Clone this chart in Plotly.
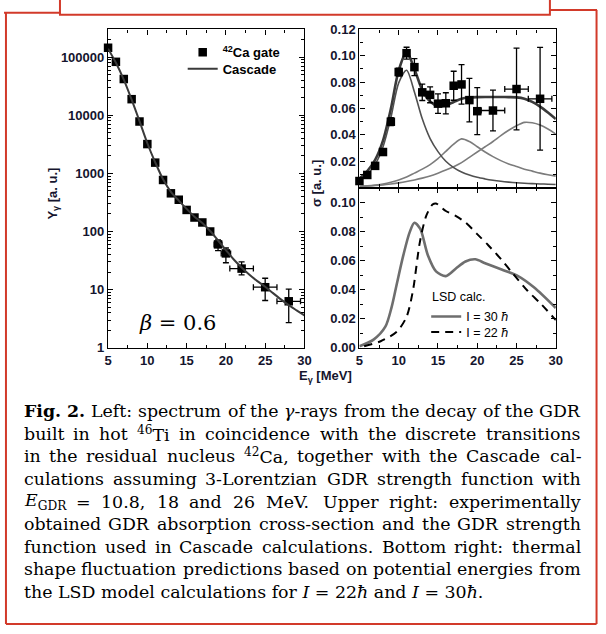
import re
import plotly.graph_objects as go

W, H = 606, 634
SANS = "Liberation Sans"
SERIF = "DejaVu Serif"
LABEL = "#15152e"
RED = "#d23a2a"

# ---------------- data: left panel (gamma spectrum, log scale) ----------------
left_E = [5, 6, 7, 8, 9, 10, 11, 12, 13, 14, 15, 16, 17, 18, 19, 20, 22, 25, 28]
left_Y = [145000, 83000, 42000, 18900, 7800, 3190, 1530, 770, 454, 352, 235, 174, 143, 100, 60, 42, 23, 11, 6.3]
left_Y_up = [0, 0, 0, 0, 0, 0, 0, 0, 0, 0, 0, 0, 0, 0, 12, 10, 7, 4.7, 3.9]
left_Y_dn = [0, 0, 0, 0, 0, 0, 0, 0, 0, 0, 0, 0, 0, 0, 13, 13, 5, 4.5, 3.6]
left_E_err = [0, 0, 0, 0, 0, 0, 0, 0, 0, 0, 0, 0, 0, 0, 0.5, 0.6, 1.5, 1.5, 1.5]

casc_E = [5, 6, 7, 8, 9, 10, 11, 12, 13, 14, 15, 16, 17, 18, 19, 20, 21, 22, 23, 24, 25, 26, 27, 28, 29, 30]
casc_Y = [140000, 80000, 41000, 18500, 7900, 3300, 1550, 790, 480, 340, 245, 180, 140, 102, 70, 48, 33, 24,
          18, 14, 11.2, 8.7, 6.8, 5.4, 4.4, 3.6]

left_yticks = [1, 10, 100, 1000, 10000, 100000]
left_yminor = [2, 3, 4, 5, 6, 7, 8, 9, 20, 30, 40, 50, 60, 70, 80, 90, 200, 300, 400, 500, 600, 700, 800, 900,
               2000, 3000, 4000, 5000, 6000, 7000, 8000, 9000, 20000, 30000, 40000, 50000, 60000, 70000,
               80000, 90000, 200000]
x_ticks = [5, 10, 15, 20, 25, 30]

# ---------------- data: upper right (GDR absorption cross-section) ----------------
gdr_E = [5, 6, 7, 8, 9, 10, 11, 12, 13, 14, 15, 16, 17, 18, 19, 20, 22, 25, 28]
gdr_S = [0.0050, 0.0096, 0.0165, 0.0270, 0.0500, 0.0877, 0.1020, 0.0914, 0.0723, 0.0704, 0.0637, 0.0640,
         0.0773, 0.0783, 0.0664, 0.0580, 0.0585, 0.0748, 0.0674]
gdr_err = [0.001, 0.001, 0.0015, 0.002, 0.003, 0.003, 0.0045, 0.0065, 0.0062, 0.006, 0.0074, 0.008,
           0.011, 0.015, 0.0165, 0.0178, 0.0154, 0.031, 0.039]
gdr_E_err = [0, 0, 0, 0, 0, 0, 0, 0, 0, 0, 0, 0, 0, 0, 0, 0, 1.5, 1.5, 1.5]
upper_yticks = [0.02, 0.04, 0.06, 0.08, 0.10, 0.12]
lower_yticks = [0.00, 0.02, 0.04, 0.06, 0.08, 0.10]

fit_E = [5, 6, 7, 8, 9, 10, 11, 12, 13, 14, 15, 16, 17, 18, 19, 20, 21, 22, 23, 24, 25, 26, 27, 28, 29, 30]
fit_total = [0.0068, 0.0126, 0.0211, 0.0357, 0.0598, 0.0889, 0.1030, 0.0900, 0.0740, 0.0654, 0.0620, 0.0625,
             0.0650, 0.0675, 0.0684, 0.0687, 0.0688, 0.0688, 0.0688, 0.0687, 0.0685, 0.0675, 0.0650, 0.0615,
             0.0570, 0.0520]
fit_L1 = [0.0050, 0.0101, 0.0176, 0.0309, 0.0530, 0.0795, 0.0890, 0.0726, 0.0522, 0.0372, 0.0273, 0.0200,
          0.0152, 0.0118, 0.0095, 0.0078, 0.0066, 0.0056, 0.0048, 0.0042, 0.0037, 0.0033, 0.0030, 0.0028,
          0.0026, 0.0024]
fit_L2 = [0.0009, 0.0013, 0.0019, 0.0027, 0.0040, 0.0058, 0.0080, 0.0110, 0.0140, 0.0175, 0.0220, 0.0275,
          0.0330, 0.0370, 0.0350, 0.0310, 0.0270, 0.0235, 0.0205, 0.0180, 0.0160, 0.0140, 0.0125, 0.0110,
          0.0098, 0.0087]
fit_L3 = [0.0009, 0.0012, 0.0016, 0.0021, 0.0028, 0.0036, 0.0046, 0.0058, 0.0072, 0.0089, 0.0110, 0.0133,
          0.0159, 0.0190, 0.0230, 0.0270, 0.0310, 0.0350, 0.0395, 0.0435, 0.0470, 0.0495, 0.0492, 0.0475,
          0.0445, 0.0407]

# ---------------- data: lower right (LSD calculations) ----------------
lsd30_E = [5.0, 6.8, 8.3, 9.1, 9.75, 10.6, 11.4, 12.0, 12.75, 13.7, 14.75, 16.0, 17.25, 18.5, 19.75, 21.0,
           23.1, 25.2, 27.25, 30.0]
lsd30_S = [0.001, 0.0056, 0.0145, 0.028, 0.0438, 0.064, 0.0797, 0.0862, 0.0819, 0.064, 0.0527, 0.0494,
           0.0545, 0.0595, 0.061, 0.0583, 0.0539, 0.0494, 0.0415, 0.0274]
lsd22_E = [5.6, 7.7, 9.75, 11.0, 11.8, 12.7, 13.5, 14.3, 14.75, 16.0, 17.25, 18.5, 19.96, 21.4, 23.1, 24.3,
           26.4, 28.1, 30.0]
lsd22_S = [0.001, 0.0045, 0.011, 0.0213, 0.039, 0.073, 0.0909, 0.0987, 0.0995, 0.0943, 0.0909, 0.0864,
           0.0785, 0.0707, 0.0606, 0.0527, 0.0393, 0.0303, 0.019]

# ---------------- caption text (justified lines, word by word) ----------------
caption_words = [
    ["<b>Fig.</b>", "<b>2.</b>", "Left:", "spectrum", "of", "the", "<i>γ</i>-rays", "from", "the", "decay",
     "of", "the", "GDR"],
    ["built", "in", "hot", "<sup>46</sup>Ti", "in", "coincidence", "with", "the", "discrete", "transitions"],
    ["in", "the", "residual", "nucleus", "<sup>42</sup>Ca,", "together", "with", "the", "Cascade", "cal-"],
    ["culations", "assuming", "3-Lorentzian", "GDR", "strength", "function", "with"],
    ["<i>E</i><sub>GDR</sub>", "=", "10.8,", "18", "and", "26", "MeV.", "Upper", "right:", "experimentally"],
    ["obtained", "GDR", "absorption", "cross-section", "and", "the", "GDR", "strength"],
    ["function", "used", "in", "Cascade", "calculations.", "Bottom", "right:", "thermal"],
    ["shape", "fluctuation", "predictions", "based", "on", "potential", "energies", "from"],
]
caption_last = "the LSD model calculations for <i>I</i> = 22<i>ħ</i> and <i>I</i> = 30<i>ħ</i>."

# approximate DejaVu Serif advance widths (em/1000), used only to space the words
GLYPH_W = {
    " ": 318, "a": 596, "b": 640, "c": 560, "d": 640, "e": 592, "f": 370, "g": 640, "h": 644, "i": 320,
    "j": 310, "k": 610, "l": 320, "m": 948, "n": 644, "o": 602, "p": 640, "q": 640, "r": 478, "s": 513,
    "t": 402, "u": 644, "v": 565, "w": 856, "x": 564, "y": 565, "z": 523, "A": 722, "B": 735, "C": 765,
    "D": 802, "E": 730, "F": 694, "G": 820, "H": 872, "I": 395, "L": 678, "M": 1024, "R": 770, "S": 685,
    "T": 667, "U": 825, "V": 722, ".": 318, ",": 318, ":": 337, "-": 338, "=": 838, "γ": 580, "ħ": 644,
}
for dch in "0123456789":
    GLYPH_W[dch] = 636


def word_width(html, size):
    total = 0.0
    scale, boldf = 1.0, 1.0
    for tok in re.split(r"(<[^>]+>)", html):
        if not tok:
            continue
        if tok.startswith("<"):
            t = tok.lower()
            if t in ("<sup>", "<sub>"):
                scale = 0.7
            elif t in ("</sup>", "</sub>"):
                scale = 1.0
            elif t == "<b>":
                boldf = 1.1
            elif t == "</b>":
                boldf = 1.0
            continue
        for ch in tok:
            total += GLYPH_W.get(ch, 600) * scale * boldf
    return total * size / 1000 * 1.025


def px(x):
    return x / W


def py(y):
    return 1 - y / H


def bold(vals, fmt):
    return ["<b>" + fmt(v) + "</b>" for v in vals]


fig = go.Figure()

# left panel
fig.add_trace(go.Scatter(
    x=left_E, y=left_Y, mode="markers", name="<sup>42</sup>Ca gate",
    marker=dict(symbol="square", size=8.5, color="black"),
    error_y=dict(type="data", symmetric=False, array=left_Y_up, arrayminus=left_Y_dn,
                 color="black", thickness=1.3, width=3),
    error_x=dict(type="data", array=left_E_err, color="black", thickness=1.3, width=3),
    cliponaxis=False, xaxis="x", yaxis="y", legend="legend"))
fig.add_trace(go.Scatter(
    x=casc_E, y=casc_Y, mode="lines", name="Cascade",
    line=dict(color="#3a3a3a", width=2, shape="spline", smoothing=0.8),
    xaxis="x", yaxis="y", legend="legend3"))

# upper right
for yy, col, wd in [(fit_L3, "#7c7c7c", 1.6), (fit_L2, "#7c7c7c", 1.6), (fit_L1, "#505050", 1.6),
                    (fit_total, "#3a3a3a", 2.6)]:
    fig.add_trace(go.Scatter(x=fit_E, y=yy, mode="lines", showlegend=False,
                             line=dict(color=col, width=wd, shape="spline", smoothing=0.8),
                             xaxis="x2", yaxis="y2"))
fig.add_trace(go.Scatter(
    x=gdr_E, y=gdr_S, mode="markers", showlegend=False,
    marker=dict(symbol="square", size=8.5, color="black"),
    error_y=dict(type="data", array=gdr_err, color="black", thickness=1.3, width=3),
    error_x=dict(type="data", array=gdr_E_err, color="black", thickness=1.3, width=3),
    cliponaxis=False, xaxis="x2", yaxis="y2"))

# lower right
fig.add_trace(go.Scatter(x=lsd30_E, y=lsd30_S, mode="lines", name="I = 30 <i>ħ</i>",
                         line=dict(color="#6e6e6e", width=2.6, shape="spline", smoothing=0.8),
                         xaxis="x3", yaxis="y3", legend="legend2"))
fig.add_trace(go.Scatter(x=lsd22_E, y=lsd22_S, mode="lines", name="I = 22 <i>ħ</i>",
                         line=dict(color="black", width=2, dash="8px,6px", shape="spline", smoothing=0.8),
                         xaxis="x3", yaxis="y3", legend="legend4"))

tickfont = dict(family=SANS, size=13, color=LABEL)


def axis(**kw):
    d = dict(showline=True, linecolor="black", linewidth=1.4, mirror="ticks", ticks="inside",
             ticklen=5, tickwidth=1.2, tickcolor="black", showgrid=False, zeroline=False,
             tickfont=tickfont)
    d.update(kw)
    return d


def minor_lin(t0, dt):
    return dict(tickmode="linear", tick0=t0, dtick=dt, ticks="inside", ticklen=3, tickwidth=1,
                tickcolor="black", showgrid=False)


def leg(x, ytop, boldfont):
    f = dict(family=SANS, size=13 if boldfont else 12.5, color="black")
    if boldfont:
        f["weight"] = "bold"
    return dict(x=px(x), y=py(ytop), xanchor="left", yanchor="top", bgcolor="rgba(0,0,0,0)",
                font=f, tracegroupgap=0)


dom_x_left = [px(106), px(306)]
dom_x_right = [px(362), px(562)]
xt_text = bold(x_ticks, lambda v: str(v))

fig.update_layout(
    width=W, height=H, margin=dict(l=0, r=0, t=0, b=0),
    paper_bgcolor="white", plot_bgcolor="rgba(0,0,0,0)",
    xaxis=axis(domain=dom_x_left, anchor="y", range=[5, 30], tickmode="array", tickvals=x_ticks,
               ticktext=xt_text, minor=minor_lin(5, 2.5)),
    yaxis=axis(domain=[py(349), py(23)], anchor="x", type="log", range=[0, 5.476], tickmode="array",
               tickvals=left_yticks, ticktext=bold(left_yticks, lambda v: str(v)),
               minor=dict(tickmode="array", tickvals=left_yminor, ticks="inside", ticklen=3, tickwidth=1,
                          tickcolor="black", showgrid=False)),
    xaxis2=axis(domain=dom_x_right, anchor="y2", range=[5, 30], tickmode="array", tickvals=x_ticks,
                showticklabels=False, minor=minor_lin(5, 2.5)),
    yaxis2=axis(domain=[py(185), py(23)], anchor="x2", range=[0, 0.12], tickmode="array",
                tickvals=upper_yticks, ticktext=bold(upper_yticks, lambda v: "%.2f" % v),
                minor=minor_lin(0, 0.01)),
    xaxis3=axis(domain=dom_x_right, anchor="y3", range=[5, 30], tickmode="array", tickvals=x_ticks,
                ticktext=xt_text, minor=minor_lin(5, 2.5)),
    yaxis3=axis(domain=[py(349), py(185)], anchor="x3", range=[0, 0.1104], tickmode="array",
                tickvals=lower_yticks, ticktext=bold(lower_yticks, lambda v: "%.2f" % v),
                minor=minor_lin(0, 0.01)),
    showlegend=True,
    legend=leg(182, 31, True),
    legend3=leg(182, 48, True),
    legend2=leg(430, 302, False),
    legend4=leg(430, 318, False),
)

ann = []
ann.append(dict(text="<b>Y<sub>γ</sub> [a. u.]</b>", x=px(50), y=py(191), textangle=-90,
                font=dict(family=SANS, size=13, color=LABEL)))
ann.append(dict(text="<b>σ [a. u.]</b>", x=px(318), y=py(181), textangle=-90,
                font=dict(family=SANS, size=13, color=LABEL)))
ann.append(dict(text="<b>E<sub>γ</sub> [MeV]</b>", x=px(327), y=py(378),
                font=dict(family=SANS, size=13, color=LABEL)))
ann.append(dict(text="<i>β</i> = 0.6", x=px(177), y=py(324),
                font=dict(family="DejaVu Serif", size=21, color="black")))
ann.append(dict(text="LSD calc.", x=px(434), y=py(297), xanchor="left",
                font=dict(family=SANS, size=12.5, color="black")))

CAP_SIZE = 17.4
CAP_L, CAP_R = 19, 587
line_y = [414, 437, 460, 483, 506.5, 530, 553, 576, 599]
capfont = dict(family=SERIF, size=CAP_SIZE, color="black")
for words, yy in zip(caption_words, line_y):
    widths = [word_width(w, CAP_SIZE) for w in words]
    gap = (CAP_R - CAP_L - sum(widths)) / (len(words) - 1)
    xpos = CAP_L
    for w, wd in zip(words, widths):
        ann.append(dict(text=w, x=px(xpos), y=py(yy), xanchor="left", font=capfont, borderpad=0))
        xpos += wd + gap
ann.append(dict(text=caption_last, x=px(CAP_L), y=py(line_y[-1]), xanchor="left", font=capfont,
                borderpad=0))

for a in ann:
    a.setdefault("xref", "paper")
    a.setdefault("yref", "paper")
    a.setdefault("showarrow", False)
    a.setdefault("xanchor", "center")
    a.setdefault("yanchor", "middle")
fig.update_layout(annotations=ann)


# red decorative frame
def seg(x0, y0, x1, y1):
    return dict(type="line", xref="paper", yref="paper", x0=px(x0), y0=py(y0), x1=px(x1), y1=py(y1),
                line=dict(color=RED, width=2))


shapes = [
    seg(2, 6, 2, 632),
    seg(0, 6, 57, 6),
    seg(556, 3, 604, 3),
    seg(603.5, 3, 603.5, 632),
    seg(2, 632, 603.5, 632),
    dict(type="rect", xref="paper", yref="paper", x0=px(57), y0=py(8), x1=px(556), y1=py(-20),
         fillcolor="white", line=dict(color=RED, width=2)),
]
fig.update_layout(shapes=shapes)

fig.write_html("out.html")
